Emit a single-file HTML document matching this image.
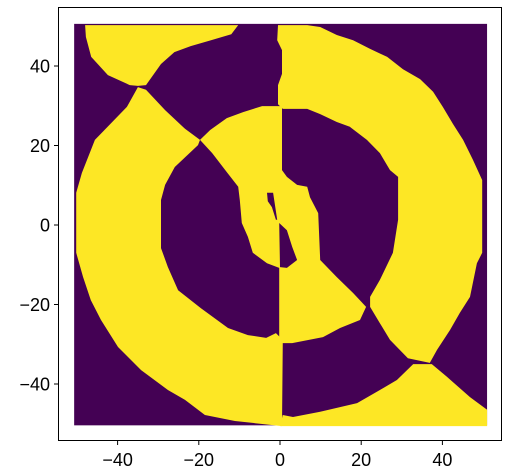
<!DOCTYPE html>
<html><head><meta charset="utf-8"><style>
html,body{margin:0;padding:0;background:#fff;}
svg{display:block;font-family:"Liberation Sans",sans-serif;}
</style></head><body>
<svg id="chart" width="510" height="475" viewBox="0 0 510 475">
<g id="plot"></g>
<rect x="58.5" y="7.5" width="443" height="433" fill="none" stroke="#000" stroke-width="1"/>
<g id="xticks"></g>
<g id="yticks"></g>
</svg>
<script>
const xTicks = [-40, -20, 0, 20, 40];
const yTicks = [-40, -20, 0, 20, 40];
const dataExtent = [-50.7, 51, -50.4, 50.6];
const yellowTopLeft = [[-48,50.3],[-10.3,50.3],[-12,48],[-17,46.5],[-22,45],[-26,43.5],[-29.3,40.5],[-33,35.2],[-35,35],[-37,35.2],[-42.4,37.7],[-46.5,42.3],[-47.8,47.3]];
const yellowLeftRing = [[-35,34.7],[-37.7,29.7],[-45.6,21.4],[-48.8,13.1],[-50.2,8.1],[-50.2,-7],[-48.5,-13.1],[-46.6,-18.9],[-44.1,-23.9],[-39.9,-30.7],[-34.2,-36.5],[-27.6,-41.5],[-23.4,-44],[-18.5,-47.8],[-11.1,-49.3],[0.5,-50.6],[0.7,-28.9],[-1,-27.2],[-3.4,-28.4],[-7.9,-27.7],[-12.8,-25.9],[-19.5,-20.9],[-25.1,-16.4],[-27.6,-10.6],[-29.3,-5.8],[-29.3,6.3],[-28.3,10.1],[-25.9,14.6],[-20.2,20.1],[-19.7,21.4],[-23.4,24.2],[-28.3,28.9],[-33,34]];
const yellowBottomRight = [[0,-50.6],[51,-50.6],[51,-46.5],[46.8,-43.3],[41.1,-38.2],[37.4,-35],[32.8,-35],[28.8,-39],[24.6,-41.5],[19,-44.8],[9.9,-47],[3.2,-48.3],[0.7,-47.8]];
const yellowInner = [[-19.7,21.4],[-17.2,23.9],[-13.1,26.9],[-9.1,28.4],[-4.4,29.9],[0.5,29.9],[0.5,13.8],[1.7,12.1],[4.2,10.1],[6.7,9.6],[7.4,7],[9.4,3],[9.9,-8.8],[14,-13.1],[18,-17.1],[21.2,-20.6],[19.7,-23.9],[14.8,-25.9],[10.6,-28.2],[3,-29.7],[-0.2,-29.7],[-0.2,-10.8],[-3.2,-9.6],[-6.7,-7],[-7.9,-3],[-9.4,0.5],[-9.9,6.3],[-10.3,9.6],[-13.1,13.3],[-16.7,18.1]];
const yellowRightRing = [[-0.5,50.3],[6.7,50.3],[9.9,49.8],[14,47.8],[18,46.5],[22.2,44.3],[26.4,42.3],[30.3,39.2],[34.5,36.7],[37.7,33.5],[40.1,29.7],[42.6,25.4],[45.1,21.4],[47.5,16.4],[49.8,11.3],[49.8,-7],[48.5,-9.6],[46.8,-18.1],[44.3,-22.1],[41.9,-26.4],[38.7,-31.4],[36.9,-34.7],[31.5,-33.5],[27.1,-28.9],[24.6,-24.7],[22.2,-20.6],[22.2,-18.1],[24.6,-13.8],[27.8,-7],[29.1,1.3],[29.1,12.1],[27.1,13.8],[24.6,18.1],[21.4,21.4],[17.2,24.7],[14,25.9],[9.9,27.9],[6.7,29.2],[0.7,29.2],[-0.5,30.4],[-0.5,35.2],[0.5,38],[0.5,44],[-0.7,46.5]];
const purpleWedge = [[-0.2,0.5],[1.7,-1.3],[3,-5.5],[4.2,-8.8],[1.7,-10.8],[0,-10.6]];
const purpleSliver = [[-3.2,8.1],[-1.7,8.1],[-0.7,1.3],[-1,1.3],[-2,4.5],[-3,6]];

const YEL = '#fde725', PUR = '#440154';
const sx = v => 280 + 4.06 * v;
const sy = v => 225 - 3.975 * v;
const NS = 'http://www.w3.org/2000/svg';
const plot = document.getElementById('plot');

const bg = document.createElementNS(NS, 'rect');
bg.setAttribute('x', sx(dataExtent[0]));
bg.setAttribute('y', sy(dataExtent[3]));
bg.setAttribute('width', sx(dataExtent[1]) - sx(dataExtent[0]));
bg.setAttribute('height', sy(dataExtent[2]) - sy(dataExtent[3]));
bg.setAttribute('fill', PUR);


plot.appendChild(bg);

function poly(pts, fill, name) {
  const p = document.createElementNS(NS, 'polygon');
  p.setAttribute('points', pts.map(d => sx(d[0]).toFixed(1) + ',' + sy(d[1]).toFixed(1)).join(' '));
  p.setAttribute('fill', fill);
  
  
  plot.appendChild(p);
}
poly(yellowTopLeft, YEL, 'class-1-top-left');
poly(yellowLeftRing, YEL, 'class-1-left-ring');
poly(yellowBottomRight, YEL, 'class-1-bottom-right');
poly(yellowInner, YEL, 'class-1-inner');
poly(yellowRightRing, YEL, 'class-1-right-ring');
poly(purpleWedge, PUR, 'class-0-wedge');
poly(purpleSliver, PUR, 'class-0-sliver');

const xg = document.getElementById('xticks');
xTicks.forEach(v => {
  const l = document.createElementNS(NS, 'line');
  l.setAttribute('x1', sx(v)); l.setAttribute('x2', sx(v));
  l.setAttribute('y1', 441); l.setAttribute('y2', 445);
  l.setAttribute('stroke', '#000');
  
  
  xg.appendChild(l);
  const t = document.createElementNS(NS, 'text');
  t.setAttribute('x', sx(v)); t.setAttribute('y', 466);
  t.setAttribute('text-anchor', 'middle'); t.setAttribute('font-size', '18');
  t.textContent = v < 0 ? '\u2212' + Math.abs(v) : String(v);
  
  
  xg.appendChild(t);
});
const yg = document.getElementById('yticks');
yTicks.forEach(v => {
  const l = document.createElementNS(NS, 'line');
  l.setAttribute('x1', 54); l.setAttribute('x2', 58);
  l.setAttribute('y1', sy(v)); l.setAttribute('y2', sy(v));
  l.setAttribute('stroke', '#000');
  
  
  yg.appendChild(l);
  const t = document.createElementNS(NS, 'text');
  t.setAttribute('x', 50); t.setAttribute('y', sy(v) + 6.5);
  t.setAttribute('text-anchor', 'end'); t.setAttribute('font-size', '18');
  t.textContent = v < 0 ? '\u2212' + Math.abs(v) : String(v);
  
  
  yg.appendChild(t);
});
</script>
</body></html>
